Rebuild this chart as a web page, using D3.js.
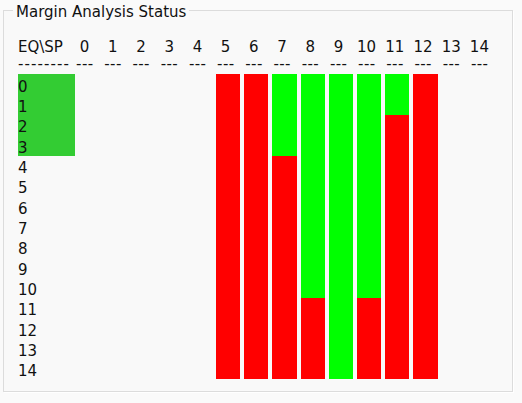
<!DOCTYPE html>
<html>
<head>
<meta charset="utf-8">
<script src="https://cdn.jsdelivr.net/npm/d3@7"></script>
<style>
  html, body { margin: 0; padding: 0; background: #fafafa; }
  svg { display: block; }
  text { font-family: "DejaVu Sans", sans-serif; font-size: 15px; fill: #111; }
</style>
</head>
<body>
<svg width="522" height="403"></svg>
<script>
// EQ rows and SP columns
const eqLabels = ["0","1","2","3","4","5","6","7","8","9","10","11","12","13","14"]
const spLabels = ["0","1","2","3","4","5","6","7","8","9","10","11","12","13","14"]

// status per SP column, one letter per EQ row: G = pass, R = fail, "" = not run
const spStatus = [
  "",
  "",
  "",
  "",
  "",
  "RRRRRRRRRRRRRRR",
  "RRRRRRRRRRRRRRR",
  "GGGGRRRRRRRRRRR",
  "GGGGGGGGGGGRRRR",
  "GGGGGGGGGGGGGGG",
  "GGGGGGGGGGGRRRR",
  "GGRRRRRRRRRRRRR",
  "RRRRRRRRRRRRRRR",
  "",
  ""
]

// EQ rows already finished (highlighted in the label column)
const eqDone = ["0","1","2","3"]

const colors = {G: "#00ff00", R: "#ff0000", done: "#33cc33"}

var svg = d3.select("svg")

// group box frame
svg.append("rect")
  .attr("x", 4.5).attr("y", 11.5).attr("width", 509).attr("height", 381)
  .attr("fill", "none").attr("stroke", "#ffffff")
svg.append("rect")
  .attr("x", 3.5).attr("y", 10.5).attr("width", 509).attr("height", 381)
  .attr("fill", "#f9f9f9").attr("stroke", "#dcdcdc")
svg.append("rect")
  .attr("x", 13).attr("y", 3).attr("width", 176).attr("height", 16)
  .attr("fill", "#fafafa")
svg.append("text")
  .attr("x", 16).attr("y", 17)
  .text("Margin Analysis Status")

var x = d3.scaleBand()
  .domain(spLabels)
  .range([75, 75 + 28.2 * (15 - 0.142)])
  .paddingInner(0.142)
  .paddingOuter(0)

var y = d3.scaleBand()
  .domain(eqLabels)
  .range([74.3, 379])

var labelLeft = 18
var labelRight = 75

// header
svg.append("text").attr("x", labelLeft).attr("y", 52).text("EQ\\SP")
svg.append("text").attr("x", labelLeft).attr("y", 69)
  .attr("textLength", 51).attr("lengthAdjust", "spacing")
  .text("--------")

var head = svg.append("g").attr("class", "header")
  .selectAll("g")
  .data(spLabels)
  .enter().append("g")
  .attr("transform", function(d) { return "translate(" + (x(d) + x.bandwidth() / 2 - 2.5) + ",0)" })

head.append("text")
  .attr("y", 52)
  .attr("text-anchor", "middle")
  .text(function(d) { return d })

head.append("text")
  .attr("x", -8.5)
  .attr("y", 69)
  .attr("textLength", 17).attr("lengthAdjust", "spacing")
  .text("---")

// finished EQ rows
svg.append("g").selectAll("rect")
  .data(eqDone)
  .enter().append("rect")
  .attr("x", labelLeft)
  .attr("y", function(d) { return y(d) })
  .attr("width", labelRight - labelLeft)
  .attr("height", y.bandwidth())
  .attr("fill", colors.done)
  .attr("shape-rendering", "crispEdges")

// status cells
var cells = []
spStatus.forEach(function(s, i) {
  s.split("").forEach(function(c, j) {
    cells.push({sp: spLabels[i], eq: eqLabels[j], status: c})
  })
})

svg.append("g").attr("class", "cells")
  .selectAll("rect")
  .data(cells)
  .enter().append("rect")
  .attr("x", function(d) { return x(d.sp) })
  .attr("y", function(d) { return y(d.eq) })
  .attr("width", x.bandwidth())
  .attr("height", y.bandwidth())
  .attr("fill", function(d) { return colors[d.status] })
  .attr("shape-rendering", "crispEdges")

// row labels
svg.append("g").attr("class", "labels")
  .selectAll("text")
  .data(eqLabels)
  .enter().append("text")
  .attr("x", labelLeft)
  .attr("y", function(d) { return y(d) + 17.5 })
  .text(function(d) { return d })
</script>
</body>
</html>
